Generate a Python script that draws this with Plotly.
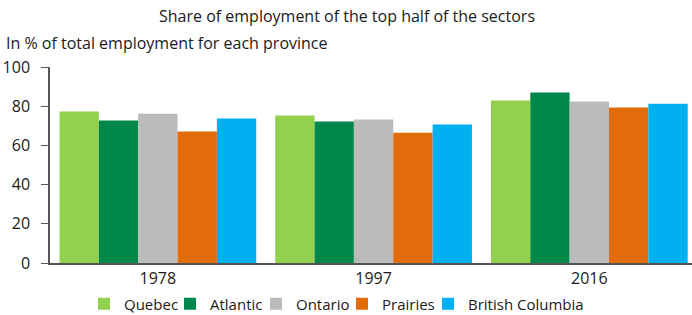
import plotly.graph_objects as go

years = ["1978", "1997", "2016"]
provinces = ["Quebec", "Atlantic", "Ontario", "Prairies", "British Columbia"]
quebec = [77.3, 75.2, 82.9]
atlantic = [72.7, 72.2, 87.0]
ontario = [76.2, 73.2, 82.4]
prairies = [67.1, 66.5, 79.3]
british_columbia = [73.7, 70.6, 81.3]
series = [quebec, atlantic, ontario, prairies, british_columbia]
colors = ["#92D050", "#00884A", "#BBBBBB", "#E36C0A", "#00B0F0"]
y_ticks = [0, 20, 40, 60, 80, 100]

FONT = "Open Sans"

fig = go.Figure()
for name, vals, col in zip(provinces, series, colors):
    fig.add_trace(go.Bar(x=years, y=vals, name=name, marker=dict(color=col, line=dict(width=0))))
# invisible spacer legend entry so the last legend label is not clipped
fig.add_trace(go.Scatter(x=[years[0]], y=[0], mode="markers", name="\u00a0", hoverinfo="skip",
                         marker=dict(color="rgba(0,0,0,0)", size=1), showlegend=True))

fig.update_layout(
    width=692, height=315,
    barmode="group", bargap=0.088, bargroupgap=0,
    paper_bgcolor="white", plot_bgcolor="white",
    margin=dict(l=50, r=0, t=67, b=52, autoexpand=False),
    font=dict(family=FONT, size=16, color="#1a1a1a"),
    title=dict(text="Share of employment of the top half of the sectors", x=347/692, xanchor="center",
               y=1 - 16/315, yanchor="middle", font=dict(size=16)),
    showlegend=True,
    legend=dict(orientation="h", x=84/692, xref="container", xanchor="left",
                y=11/315, yref="container", yanchor="middle",
                font=dict(size=15), itemwidth=30, entrywidth=41, traceorder="normal"),
    annotations=[dict(text="In % of total employment for each province", xref="paper", yref="paper",
                      x=-46/642, y=1 + 24/196, xanchor="left", yanchor="middle", showarrow=False,
                      font=dict(size=16))],
)
fig.update_xaxes(type="category", range=[-0.5, 2.476], showline=True, linecolor="#555555", linewidth=1.5,
                 ticks="", showgrid=False, tickfont=dict(size=16))
fig.update_yaxes(range=[0, 100], tickvals=y_ticks, showline=True, linecolor="#555555", linewidth=1.5,
                 ticks="outside", ticklen=7, tickcolor="#555555", showgrid=False, zeroline=False,
                 ticklabelstandoff=8, tickfont=dict(size=16))

fig.write_html("out.html", config={"displayModeBar": False},
               post_script="document.body.style.margin='0';")
